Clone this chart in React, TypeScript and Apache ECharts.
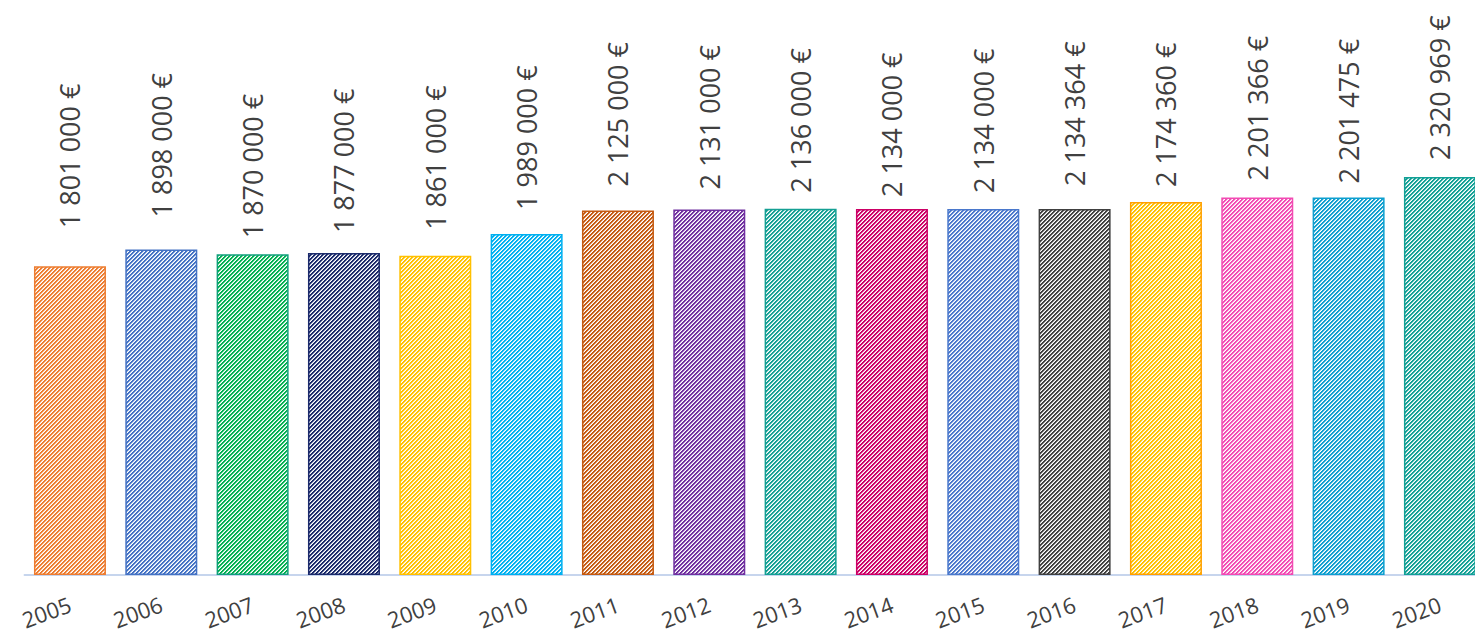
import React, { useEffect, useRef } from "react";
import * as echarts from "echarts";

const years = ["2005", "2006", "2007", "2008", "2009", "2010", "2011", "2012", "2013", "2014", "2015", "2016", "2017", "2018", "2019", "2020"];
const values = [1801000, 1898000, 1870000, 1877000, 1861000, 1989000, 2125000, 2131000, 2136000, 2134000, 2134000, 2134364, 2174360, 2201366, 2201475, 2320969];
const stripeColors = ["#ED7D31", "#4472C4", "#00B050", "#1B2A6B", "#FFC000", "#00B0F0", "#C55A11", "#7030A0", "#15A094", "#CC0066", "#4A78CC", "#404040", "#FFC000", "#F24BB3", "#0E9FCF", "#13A096"];
const borderColors = ["#ED7D31", "#4472C4", "#10A07C", "#1B2A6B", "#FFC000", "#00B0F0", "#C55A11", "#7030A0", "#15A094", "#CC0066", "#4A78CC", "#404040", "#FFA000", "#F24BB3", "#0E9FCF", "#13A096"];
const labelGaps = [38, 32, 16, 20, 26, 24, 24, 20, 16, 12, 16, 23, 15, 17, 14, 17];

function makeStripe(color: string) {
  const c = document.createElement("canvas");
  c.width = 8;
  c.height = 8;
  const ctx = c.getContext("2d")!;
  ctx.fillStyle = "#ffffff";
  ctx.fillRect(0, 0, 8, 8);
  for (let y = 0; y < 8; y++) {
    for (let x = 0; x < 8; x++) {
      const k = (x + y) % 4;
      if (k < 2) {
        ctx.globalAlpha = 1;
        ctx.fillStyle = color;
        ctx.fillRect(x, y, 1, 1);
      } else if (k === 2) {
        ctx.globalAlpha = 0.35;
        ctx.fillStyle = color;
        ctx.fillRect(x, y, 1, 1);
      }
    }
  }
  ctx.globalAlpha = 1;
  return c;
}

function fmt(v: number) {
  return String(v).replace(/\B(?=(\d{3})+(?!\d))/g, " ") + " €";
}

export default function App() {
  const ref = useRef<HTMLDivElement>(null);
  useEffect(() => {
    if (!ref.current) return;
    const chart = echarts.init(ref.current, undefined, { renderer: "svg" });
    const data = values.map((v, i) => ({
      value: v,
      itemStyle: {
        color: { image: makeStripe(stripeColors[i]), repeat: "repeat" } as any,
        borderColor: borderColors[i],
        borderWidth: 1.5,
      },
      label: { distance: labelGaps[i] },
    }));
    chart.setOption({
      animation: false,
      grid: { left: 24.3, top: 60.5, width: 1461.3, height: 514.5, containLabel: false },
      xAxis: {
        type: "category",
        data: years,
        axisLine: { lineStyle: { color: "#B4C7E7", width: 1.5 } },
        axisTick: { show: false },
        axisLabel: {
          rotate: 20,
          margin: 28,
          fontSize: 22,
          fontFamily: "Open Sans",
          color: "#404040",
          interval: 0,
        },
      },
      yAxis: {
        type: "value",
        min: 0,
        max: 3000000,
        show: false,
        splitLine: { show: false },
      },
      series: [
        {
          type: "bar",
          data,
          barWidth: 72,
          label: {
            show: true,
            position: "top",
            rotate: 90,
            align: "left",
            verticalAlign: "middle",
            fontSize: 27,
            fontFamily: "Open Sans",
            color: "#404040",
            formatter: (p: any) => fmt(p.value),
          },
        },
      ],
    });
    return () => chart.dispose();
  }, []);
  return (
    <div style={{ position: "absolute", left: 0, top: 0, width: 1475, height: 634, overflow: "hidden", background: "#fff" }}>
      <div ref={ref} style={{ width: 1500, height: 634 }} />
    </div>
  );
}
